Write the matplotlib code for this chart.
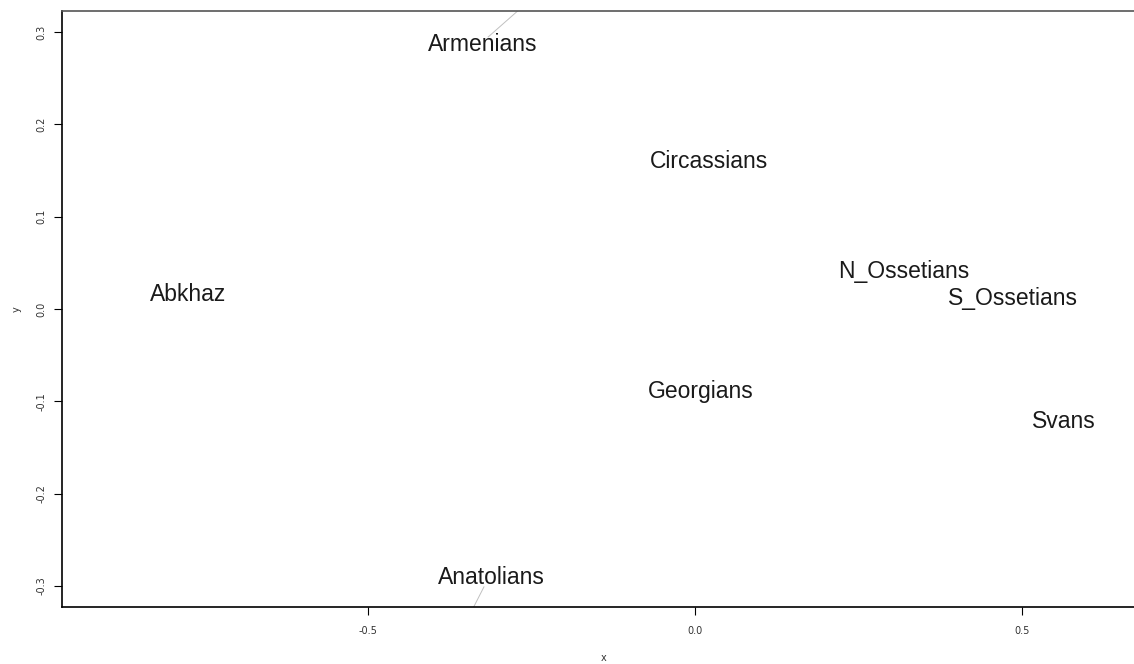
import matplotlib
matplotlib.use("Agg")
from matplotlib import pyplot as plt

# MDS coordinates
groups = ["Armenians", "Circassians", "N_Ossetians", "S_Ossetians",
          "Abkhaz", "Georgians", "Svans", "Anatolians"]
xs = [-0.325, 0.021, 0.319, 0.486, -0.775, 0.008, 0.563, -0.312]
ys = [0.286, 0.160, 0.041, 0.011, 0.016, -0.089, -0.122, -0.291]

# two stray grey segments
seg1_x = [-0.3165, -0.252]
seg1_y = [0.2947, 0.335]
seg2_x = [-0.323, -0.354]
seg2_y = [-0.301, -0.344]

xticks = [-0.5, 0.0, 0.5]
yticks = [-0.3, -0.2, -0.1, 0.0, 0.1, 0.2, 0.3]

fig = plt.figure(figsize=(11.34, 6.64), dpi=100)
ax = fig.add_axes([62 / 1134, 1 - 607 / 664, 1.01 - 62 / 1134, (607 - 11) / 664])

ax.plot(seg1_x, seg1_y, color="#c0c0c0", lw=0.7)
ax.plot(seg2_x, seg2_y, color="#c0c0c0", lw=0.7)

for name, x, y in zip(groups, xs, ys):
    ax.text(x, y, name, ha="center", va="center", fontsize=16.5,
            family="Liberation Sans", color="#1a1a1a")

ax.set_xlim(-0.968, 0.688)
ax.set_ylim(-0.3228, 0.3228)
ax.set_xticks(xticks)
ax.set_yticks(yticks)
ax.set_xticklabels(["-0.5", "0.0", "0.5"])
ax.set_yticklabels([f"{v:.1f}" for v in yticks], rotation=90, va="center")
ax.tick_params(direction="out", length=6, width=0.8, labelsize=7,
               labelcolor="#333333", pad=8)
ax.tick_params(axis="y", pad=5)
for s in ax.spines.values():
    s.set_linewidth(1.2)
ax.spines["top"].set_color("#555555")
ax.set_xlabel("x", fontsize=7, labelpad=12, color="#333333")
ax.set_ylabel("y", fontsize=7, labelpad=11, color="#333333")

fig.savefig("out.png", dpi=100)
